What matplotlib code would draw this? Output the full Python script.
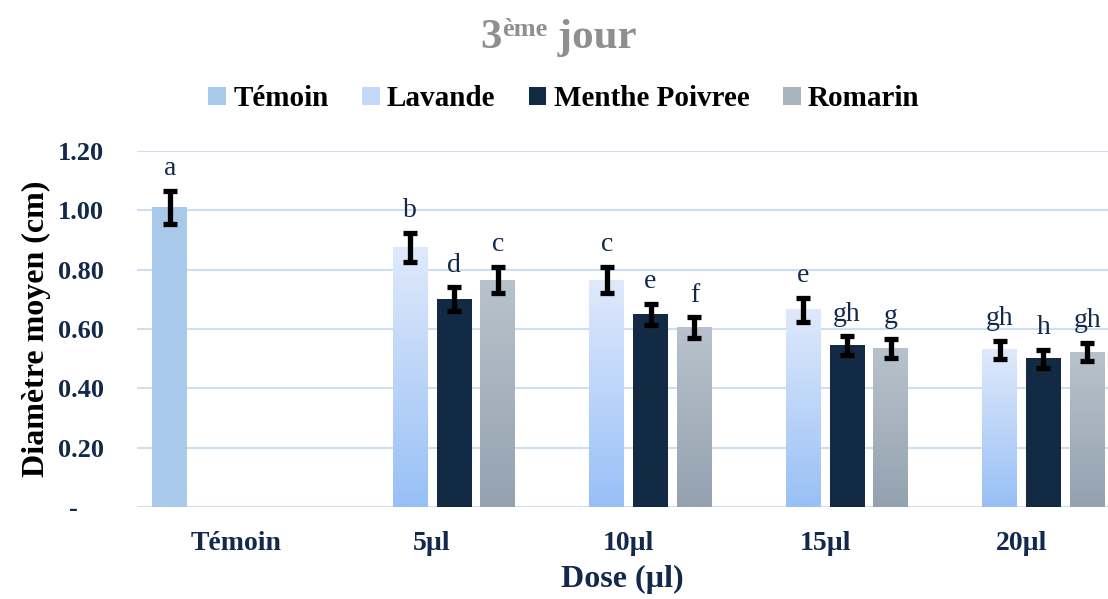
import numpy as np
import matplotlib
matplotlib.use('Agg')
import matplotlib.pyplot as plt
from matplotlib.patches import Patch

plt.rcParams['font.family'] = ['Liberation Serif', 'DejaVu Serif']

# données
doses = ['Témoin', '5µl', '10µl', '15µl', '20µl']
series = ['Témoin', 'Lavande', 'Menthe Poivree', 'Romarin']
temoin = [1.01, np.nan, np.nan, np.nan, np.nan]
lavande = [np.nan, 0.875, 0.765, 0.664, 0.53]
menthe = [np.nan, 0.70, 0.65, 0.543, 0.50]
romarin = [np.nan, 0.765, 0.604, 0.535, 0.522]
err_temoin = [0.055, 0, 0, 0, 0]
err_lavande = [0, 0.05, 0.045, 0.04, 0.03]
err_menthe = [0, 0.04, 0.035, 0.032, 0.03]
err_romarin = [0, 0.045, 0.035, 0.032, 0.03]
lettres_temoin = ['a', '', '', '', '']
lettres_lavande = ['', 'b', 'c', 'e', 'gh']
lettres_menthe = ['', 'd', 'e', 'gh', 'h']
lettres_romarin = ['', 'c', 'f', 'g', 'gh']
yticks = [0, 0.2, 0.4, 0.6, 0.8, 1.0, 1.2]
ytick_labels = ['-    ', '0.20', '0.40', '0.60', '0.80', '1.00', '1.20']

navy = '#13294b'
# couleurs: (haut, bas) pour les dégradés
couleurs = [('#a8c9ea', '#a8c9ea'), ('#dfe9fb', '#98c0f6'),
            ('#132a45', '#132a45'), ('#b8c2cc', '#94a2b0')]
legende_couleurs = ['#a8c9ea', '#c3d8f8', '#132a45', '#a9b4bf']

fig = plt.figure(figsize=(11.08, 5.99), dpi=100)
ax = fig.add_axes([0.124, 0.1536, 0.876, 0.5944])

x = np.arange(len(doses))
slot = 0.2234
width = 0.178
data = [temoin, lavande, menthe, romarin]
errs = [err_temoin, err_lavande, err_menthe, err_romarin]
lettres = [lettres_temoin, lettres_lavande, lettres_menthe, lettres_romarin]

for i in range(4):
    pos = x + (i - 1.5) * slot
    vals = np.array(data[i], dtype=float)
    haut, bas = couleurs[i]
    bars = ax.bar(pos, np.nan_to_num(vals), width, color=haut, zorder=2)
    grad = np.linspace(0, 1, 100).reshape(-1, 1)
    cmap = matplotlib.colors.LinearSegmentedColormap.from_list('g%d' % i, [bas, haut])
    for b, v in zip(bars, vals):
        if np.isnan(v):
            continue
        ax.imshow(grad, extent=(b.get_x(), b.get_x() + b.get_width(), 0, v),
                  origin='lower', aspect='auto', cmap=cmap, zorder=2.5)
    ok = ~np.isnan(vals)
    ax.errorbar(pos[ok], vals[ok], yerr=np.array(errs[i])[ok], fmt='none',
                ecolor='black', elinewidth=3.8, capsize=4.8, capthick=3.8, zorder=4)
    for p, v, e, t in zip(pos, vals, errs[i], lettres[i]):
        if t:
            ax.annotate(t, xy=(p, v + e), xytext=(0, 7), textcoords='offset points',
                        ha='center', va='bottom', fontsize=20, color=navy)

ax.set_xlim(-0.5, 4.44)
ax.set_ylim(0, 1.2)
ax.set_yticks(yticks)
ax.set_yticklabels(ytick_labels)
ax.set_xticks(x)
ax.set_xticklabels(doses)
ax.grid(axis='y', color='#cfdff2', linewidth=1.5, zorder=0)
ax.set_axisbelow(True)
for s in ax.spines.values():
    s.set_visible(False)
ax.tick_params(axis='y', length=0, pad=24, labelsize=19, labelcolor=navy)
ax.tick_params(axis='x', length=0, pad=17, labelsize=20, labelcolor=navy)
for lab in ax.get_yticklabels() + ax.get_xticklabels():
    lab.set_fontweight('bold')
ax.set_xlabel('Dose (µl)', fontsize=23, fontweight='bold', color=navy, labelpad=7)
ax.set_ylabel('Diamètre moyen (cm)', fontsize=23, fontweight='bold', color='black', labelpad=5)

# titre avec exposant
gris = '#8f8f8f'
t3 = fig.text(0.4335, 0.905, '3', fontsize=31, fontweight='bold', color=gris, va='bottom', ha='left')
tsup = ax.annotate('ème', xy=(1.0, 0.42), xycoords=t3, fontsize=19, fontweight='bold',
                   color=gris, va='bottom', ha='left', annotation_clip=False)
ax.annotate(' jour', xy=(1.0, 0.0), xycoords=(tsup, t3), fontsize=31, fontweight='bold',
            color=gris, va='bottom', ha='left', annotation_clip=False)

handles = [Patch(facecolor=c) for c in legende_couleurs]
fig.legend(handles, series, loc='center', bbox_to_anchor=(0.509, 0.835), ncol=4,
           frameon=False, prop={'size': 21, 'weight': 'bold'}, handlelength=0.6,
           handleheight=0.6, handletextpad=0.25, columnspacing=1.15)

plt.savefig('out.png', dpi=100)
